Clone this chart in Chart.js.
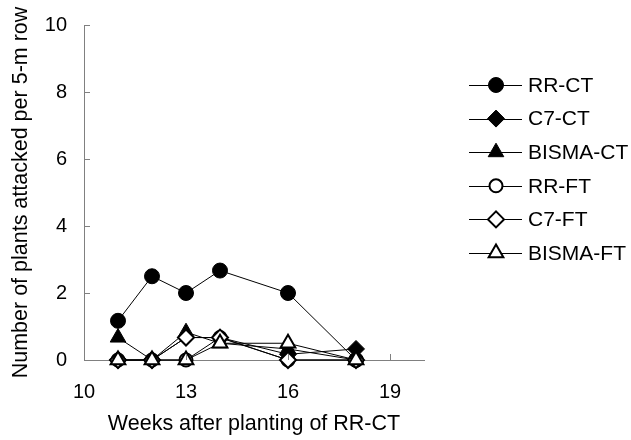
<!DOCTYPE html>
<html>
<head>
<meta charset="utf-8">
<script src="https://cdn.jsdelivr.net/npm/chart.js@4.4.0/dist/chart.umd.min.js"></script>
<style>
  html, body { margin: 0; padding: 0; background: #fff; }
  #wrap { width: 631px; height: 440px; position: relative; }
</style>
</head>
<body>
<div id="wrap"><canvas id="c" width="631" height="440"></canvas></div>
<script>
const weeks = [11, 12, 13, 14, 16, 18];
const xTickValues = [10, 13, 16, 19];
const yTickValues = [0, 2, 4, 6, 8, 10];
const seriesNames = ['RR-CT', 'C7-CT', 'BISMA-CT', 'RR-FT', 'C7-FT', 'BISMA-FT'];
const rrCT = [1.17, 2.5, 2.0, 2.67, 2.0, 0];
const c7CT = [0, 0, 0.67, 0.67, 0.17, 0.33];
const bismaCT = [0.67, 0, 0.83, 0.5, 0.33, 0];
const rrFT = [0, 0, 0, 0.67, 0, 0];
const c7FT = [0, 0, 0.67, 0.67, 0, 0];
const bismaFT = [0, 0, 0, 0.5, 0.5, 0];
const xTitle = 'Weeks after planting of RR-CT';
const yTitle = 'Number of plants attacked per 5-m row';

const FONT = 'Liberation Sans, Arial, sans-serif';
const AXIS = '#808080';

const styles = [
  { pointStyle: 'circle',   radius: 7.5, fill: '#000', bw: 1 },
  { pointStyle: 'rectRot',  radius: 8.5, fill: '#000', bw: 1 },
  { pointStyle: 'triangle', radius: 9,   fill: '#000', bw: 1 },
  { pointStyle: 'circle',   radius: 6.5, fill: '#fff', bw: 2 },
  { pointStyle: 'rectRot',  radius: 8,   fill: '#fff', bw: 2 },
  { pointStyle: 'triangle', radius: 8.5, fill: '#fff', bw: 2 }
];
const values = [rrCT, c7CT, bismaCT, rrFT, c7FT, bismaFT];

const datasets = seriesNames.map((name, i) => ({
  label: name,
  data: weeks.map((w, j) => ({ x: w, y: values[i][j] })),
  borderColor: '#000',
  borderWidth: 1,
  backgroundColor: styles[i].fill,
  pointStyle: styles[i].pointStyle,
  pointRadius: styles[i].radius,
  pointHoverRadius: styles[i].radius,
  pointBorderWidth: styles[i].bw,
  pointBorderColor: '#000',
  pointBackgroundColor: styles[i].fill,
  order: seriesNames.length - i,
  tension: 0,
  clip: false
}));

const innerTicks = {
  id: 'innerTicks',
  afterDraw(chart) {
    const ctx = chart.ctx;
    const xs = chart.scales.x, ys = chart.scales.y;
    ctx.save();
    ctx.strokeStyle = AXIS;
    ctx.lineWidth = 1;
    ctx.beginPath();
    yTickValues.forEach(v => {
      const y = Math.round(ys.getPixelForValue(v)) + 0.5;
      ctx.moveTo(xs.left, y); ctx.lineTo(xs.left + 6, y);
    });
    xTickValues.forEach(v => {
      const x = Math.round(xs.getPixelForValue(v)) + 0.5;
      ctx.moveTo(x, ys.bottom); ctx.lineTo(x, ys.bottom - 6);
    });
    ctx.stroke();
    ctx.restore();
  }
};

const sideLegend = {
  id: 'sideLegend',
  afterDraw(chart) {
    const ctx = chart.ctx;
    const top = 85, step = 33.6;
    ctx.save();
    chart.data.datasets.forEach((ds, i) => {
      const y = top + i * step;
      ctx.strokeStyle = '#000';
      ctx.lineWidth = 1;
      ctx.beginPath();
      ctx.moveTo(469, Math.round(y) + 0.5);
      ctx.lineTo(522, Math.round(y) + 0.5);
      ctx.stroke();
      ctx.fillStyle = styles[i].fill;
      ctx.strokeStyle = '#000';
      ctx.lineWidth = styles[i].bw;
      Chart.helpers.drawPoint(ctx, {
        pointStyle: styles[i].pointStyle,
        radius: styles[i].radius,
        rotation: 0,
        borderWidth: styles[i].bw
      }, 496, y);
      ctx.fillStyle = '#000';
      ctx.font = '21px ' + FONT;
      ctx.textBaseline = 'middle';
      ctx.textAlign = 'left';
      ctx.fillText(ds.label, 528, y + 1);
    });
    ctx.restore();
  }
};

new Chart(document.getElementById('c'), {
  type: 'line',
  data: { datasets },
  options: {
    responsive: false,
    animation: false,
    events: [],
    layout: { padding: { top: 25, right: 207, left: 0, bottom: 0 } },
    plugins: { legend: { display: false }, tooltip: { enabled: false } },
    scales: {
      x: {
        type: 'linear',
        min: 10, max: 20,
        afterFit(s) { s.height = 80; s.paddingLeft = 0; s.paddingRight = 0; },
        afterBuildTicks(s) { s.ticks = xTickValues.map(v => ({ value: v })); },
        grid: { display: false, drawTicks: false },
        border: { display: true, color: AXIS, width: 1 },
        ticks: { color: '#000', font: { family: FONT, size: 20 }, padding: 20, maxRotation: 0, autoSkip: false },
        title: { display: true, text: xTitle, color: '#000', font: { family: FONT, size: 21.5 }, padding: { top: 0, bottom: 3 } }
      },
      y: {
        min: 0, max: 10,
        afterFit(s) { s.width = 84; s.paddingTop = 0; s.paddingBottom = 0; },
        afterBuildTicks(s) { s.ticks = yTickValues.map(v => ({ value: v })); },
        grid: { display: false, drawTicks: false },
        border: { display: true, color: AXIS, width: 1 },
        ticks: { color: '#000', font: { family: FONT, size: 20 }, padding: 17 },
        title: { display: true, text: yTitle, color: '#000', font: { family: FONT, size: 21.5 }, padding: { top: 8, bottom: 0 } }
      }
    }
  },
  plugins: [innerTicks, sideLegend]
});
</script>
</body>
</html>
